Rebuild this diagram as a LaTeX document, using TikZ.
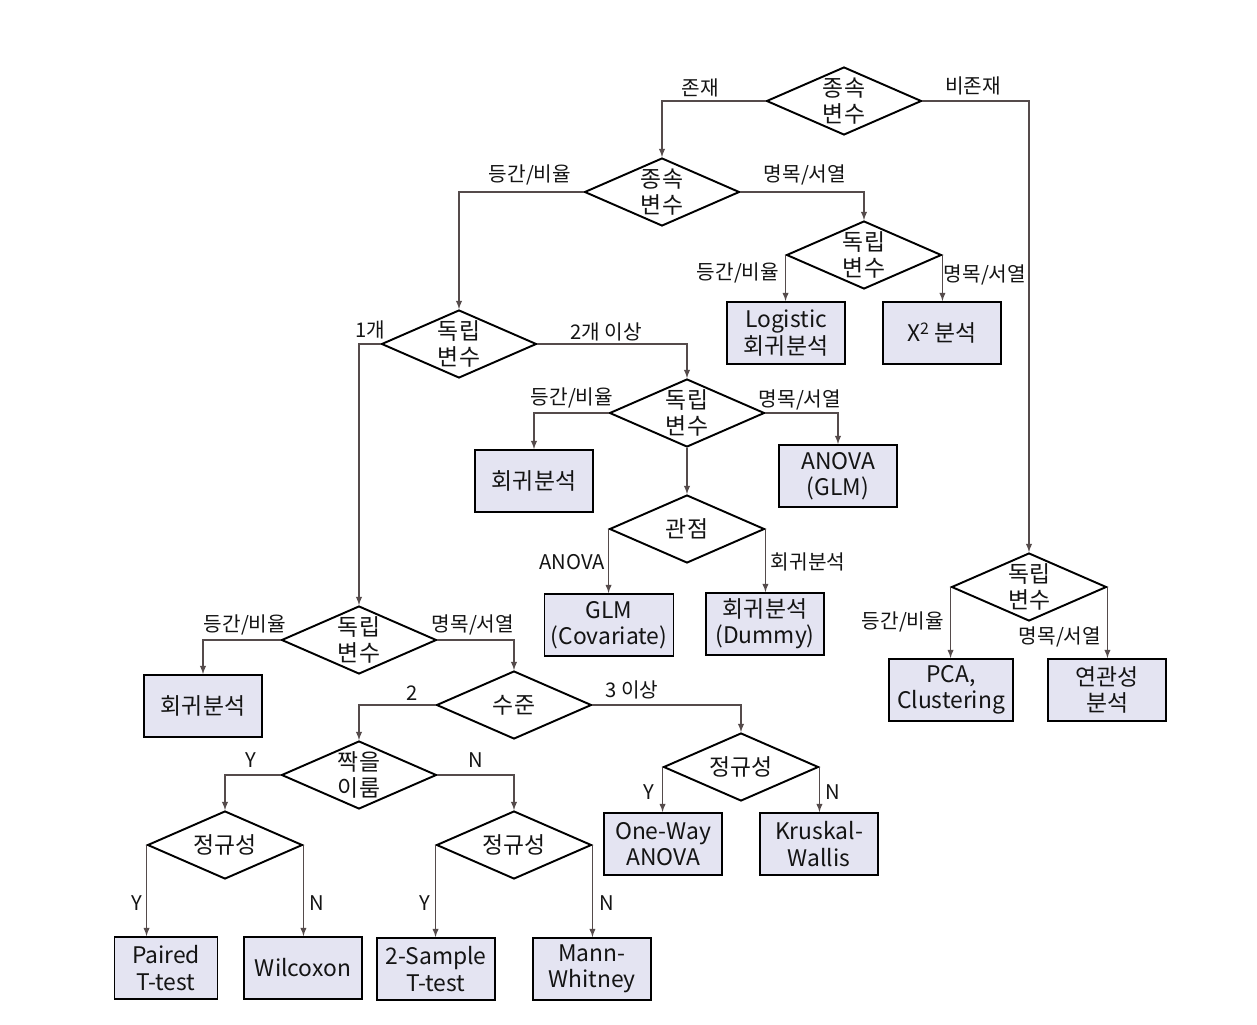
\documentclass[tikz,border=0pt]{standalone}
\usepackage{fontspec}
\setmainfont{Noto Sans CJK KR}
\usepackage{tikz}
\usetikzlibrary{arrows,shapes,positioning}
\usepackage{xcolor}
\definecolor{boxfill}{RGB}{228,228,242}
\definecolor{linegray}{RGB}{85,75,75}
\definecolor{txtgray}{RGB}{20,20,20}
\tikzstyle{arrow} = [->,>=latex,color=linegray,line width=0.6pt]
\tikzstyle{decision} = [diamond, draw=black, line width=1.1pt, aspect=2.3, inner sep=-1pt, minimum width=3.1cm, minimum height=1.36cm, align=center, text=txtgray, font=\fontsize{13}{15}\selectfont]
\tikzstyle{result} = [rectangle, draw=black, line width=1.1pt, fill=boxfill, minimum width=2.36cm, minimum height=1.24cm, inner sep=1pt, align=center, text=txtgray, font=\fontsize{13}{15}\selectfont]
\tikzstyle{branch} = [text=txtgray, inner sep=1pt, font=\fontsize{11.5}{13}\selectfont]

\begin{document}
\begin{tikzpicture}[x=0.02cm, y=-0.02cm]
    \fill[white] (0,0) rectangle (1257,1024);
    \useasboundingbox (0,0) rectangle (1257,1024);

    % Nodes
    \node[decision] (dep1) at (844,101) {종속\\변수};
    \node[decision] (dep2) at (662,192) {종속\\변수};
    \node[decision] (ind1) at (864,255) {독립\\변수};
    \node[result] (logit) at (786,333) {Logistic\\회귀분석};
    \node[result] (chisq) at (942,333) {X\textsuperscript{2} 분석};
    \node[decision] (ind2) at (459,344) {독립\\변수};
    \node[decision] (ind3) at (687,413) {독립\\변수};
    \node[result] (reg1) at (534,481) {회귀분석};
    \node[result] (anova) at (838,476) {ANOVA\\(GLM)};
    \node[decision] (view) at (687,529) {관점};
    \node[result, minimum width=2.58cm] (glm) at (609,625) {GLM\\(Covariate)};
    \node[result] (dummy) at (765,624) {회귀분석\\(Dummy)};
    \node[decision] (ind4) at (1029,587) {독립\\변수};
    \node[result, minimum width=2.48cm] (pca) at (951,690) {PCA,\\Clustering};
    \node[result] (assoc) at (1107,690) {연관성\\분석};
    \node[decision] (ind5) at (359,640) {독립\\변수};
    \node[result] (reg2) at (203,706) {회귀분석};
    \node[decision] (level) at (514,705) {수준};
    \node[decision] (pair) at (359,775) {짝을\\이룸};
    \node[decision] (norm1) at (225,845) {정규성};
    \node[decision] (norm2) at (514,845) {정규성};
    \node[decision] (norm3) at (741,767) {정규성};
    \node[result, minimum width=2.06cm] (paired) at (166,968) {Paired\\T-test};
    \node[result] (wilcox) at (303,968) {Wilcoxon};
    \node[result] (twosample) at (436,969) {2-Sample\\T-test};
    \node[result] (mann) at (592,969) {Mann-\\Whitney};
    \node[result] (oneway) at (663,844) {One-Way\\ANOVA};
    \node[result] (kruskal) at (819,844) {Kruskal-\\Wallis};

    % Arrows
    \draw[arrow] (dep1.west) -| (dep2.north);
    \draw[arrow] (dep1.east) -| (ind4.north);
    \draw[arrow] (dep2.west) -| (ind2.north);
    \draw[arrow] (dep2.east) -| (ind1.north);
    \draw[arrow] (ind1.west) -- (ind1.west |- logit.north);
    \draw[arrow] (ind1.east) -- (ind1.east |- chisq.north);
    \draw[arrow] (ind2.west) -| (ind5.north);
    \draw[arrow] (ind2.east) -| (ind3.north);
    \draw[arrow] (ind3.west) -| (reg1.north);
    \draw[arrow] (ind3.east) -| (anova.north);
    \draw[arrow] (ind3.south) -- (view.north);
    \draw[arrow] (view.west) -- (view.west |- glm.north);
    \draw[arrow] (view.east) -- (view.east |- dummy.north);
    \draw[arrow] (ind4.west) -- (ind4.west |- pca.north);
    \draw[arrow] (ind4.east) -- (ind4.east |- assoc.north);
    \draw[arrow] (ind5.west) -| (reg2.north);
    \draw[arrow] (ind5.east) -| (level.north);
    \draw[arrow] (level.west) -| (pair.north);
    \draw[arrow] (level.east) -| (norm3.north);
    \draw[arrow] (pair.west) -| (norm1.north);
    \draw[arrow] (pair.east) -| (norm2.north);
    \draw[arrow] (norm1.west) -- (norm1.west |- paired.north);
    \draw[arrow] (norm1.east) -- (norm1.east |- wilcox.north);
    \draw[arrow] (norm2.west) -- (norm2.west |- twosample.north);
    \draw[arrow] (norm2.east) -- (norm2.east |- mann.north);
    \draw[arrow] (norm3.west) -- (norm3.west |- oneway.north);
    \draw[arrow] (norm3.east) -- (norm3.east |- kruskal.north);

    % Labels on branches
    \node[branch] (lexist) at (700,88) {존재};
    \node[branch] (lnone) at (973,86) {비존재};
    \node[branch] (lint1) at (530,175) {등간/비율};
    \node[branch] (lnom1) at (805,175) {명목/서열};
    \node[branch] (lint2) at (738,273) {등간/비율};
    \node[branch] (lnom2) at (985,275) {명목/서열};
    \node[branch] (lone) at (370,330) {1개};
    \node[branch] (lmore) at (606,332) {2개 이상};
    \node[branch] (lint3) at (572,398) {등간/비율};
    \node[branch] (lnom3) at (800,400) {명목/서열};
    \node[branch] (lanova) at (572,562) {ANOVA};
    \node[branch] (lreg) at (808,562) {회귀분석};
    \node[branch] (lint4) at (903,622) {등간/비율};
    \node[branch] (lnom4) at (1060,637) {명목/서열};
    \node[branch] (lint5) at (245,625) {등간/비율};
    \node[branch] (lnom5) at (473,625) {명목/서열};
    \node[branch] (ltwo) at (412,693) {2};
    \node[branch] (lthree) at (632,690) {3 이상};
    \node[branch] (lpy) at (251,760) {Y};
    \node[branch] (lpn) at (476,760) {N};
    \node[branch] (ly1) at (137,903) {Y};
    \node[branch] (ln1) at (317,903) {N};
    \node[branch] (ly2) at (425,903) {Y};
    \node[branch] (ln2) at (607,903) {N};
    \node[branch] (ly3) at (649,792) {Y};
    \node[branch] (ln3) at (833,792) {N};
\end{tikzpicture}
\end{document}
